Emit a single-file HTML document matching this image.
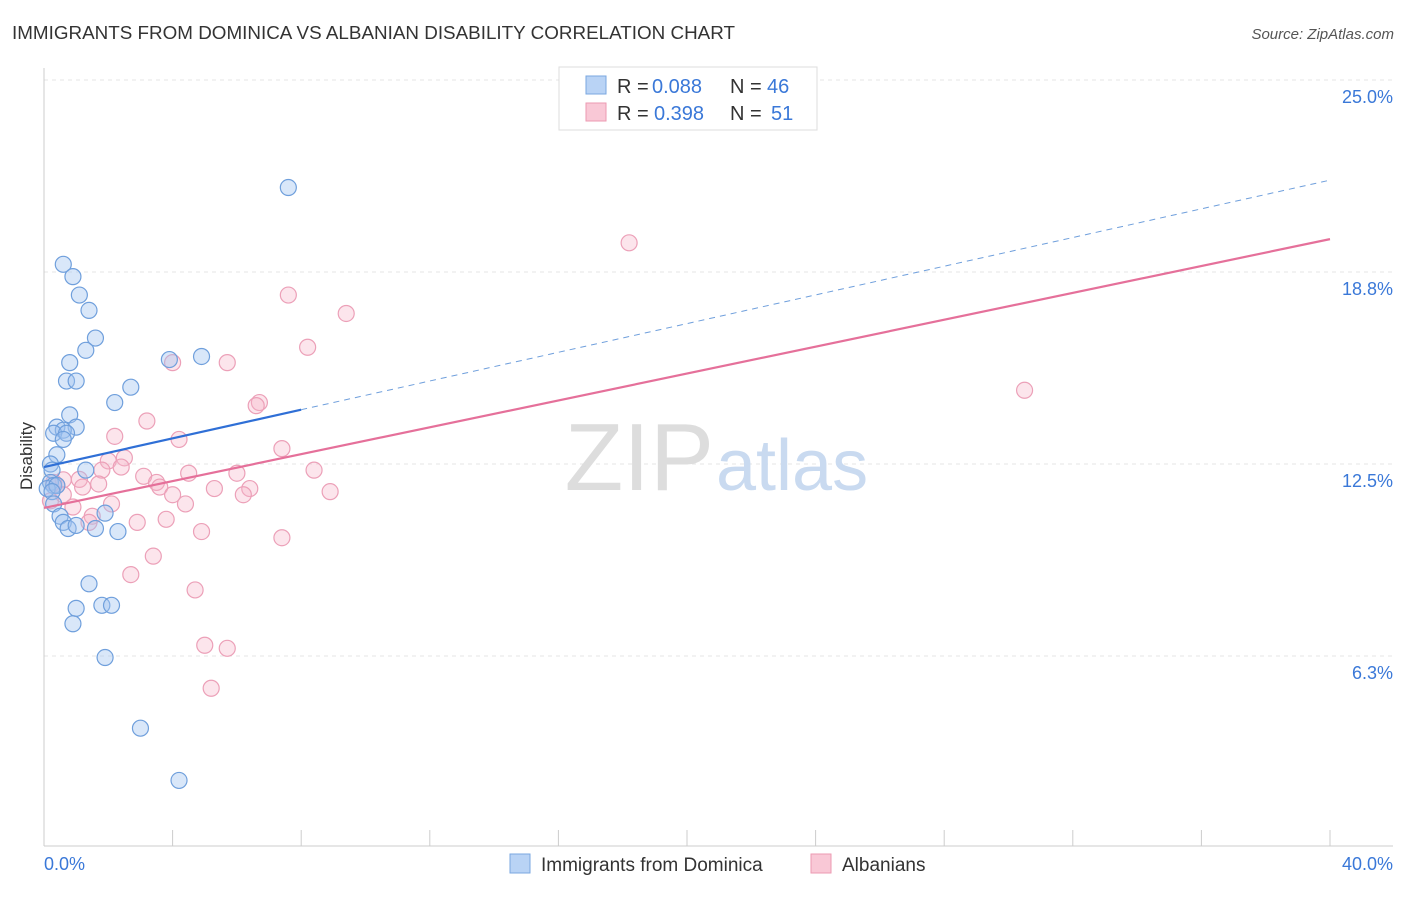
<!DOCTYPE html>
<html><head><meta charset="utf-8"><style>
body{margin:0;background:#fff;font-family:"Liberation Sans",sans-serif;}
svg text{font-family:"Liberation Sans",sans-serif;}
</style></head><body>
<svg id="chart" width="1406" height="892" xmlns="http://www.w3.org/2000/svg">
<text x="12" y="39" font-size="18" fill="#333" textLength="723" lengthAdjust="spacingAndGlyphs">IMMIGRANTS FROM DOMINICA VS ALBANIAN DISABILITY CORRELATION CHART</text>
<text x="1394" y="39" font-size="15" fill="#555" font-style="italic" text-anchor="end">Source: ZipAtlas.com</text>
<g id="grid"></g>
<text x="714" y="490" font-size="96" fill="#ddd" text-anchor="end" font-family="Liberation Serif">ZIP</text>
<text x="716" y="490" font-size="72" fill="#c9daf0">atlas</text>
<g id="axes"></g>
<g id="pts"></g>
<g id="trends"></g>
<text x="32" y="456" font-size="17" fill="#333" text-anchor="middle" transform="rotate(-90 32 456)">Disability</text>
<g>
<rect x="559" y="67" width="258" height="63" fill="#fff" stroke="#ddd"/>
<rect x="586" y="76" width="20" height="18" fill="#b9d3f5" stroke="#7aa7e0"/>
<rect x="586" y="103" width="20" height="18" fill="#f9c8d6" stroke="#ec9ab2"/>
<text x="617" y="93" font-size="20" fill="#333">R = <tspan fill="#3a78d8" x="652">0.088</tspan><tspan x="730">N = </tspan><tspan fill="#3a78d8" x="767">46</tspan></text>
<text x="617" y="120" font-size="20" fill="#333">R = <tspan fill="#3a78d8" x="654">0.398</tspan><tspan x="730">N = </tspan><tspan fill="#3a78d8" x="771">51</tspan></text>
</g>
<g>
<rect x="510" y="854" width="20" height="19" fill="#b9d3f5" stroke="#7aa7e0"/>
<text x="541" y="871" font-size="19" fill="#333">Immigrants from Dominica</text>
<rect x="811" y="854" width="20" height="19" fill="#f9c8d6" stroke="#ec9ab2"/>
<text x="842" y="871" font-size="19" fill="#333">Albanians</text>
</g>
</svg>
<script>
const yTicks=[6.25,12.5,18.75,25];
const yTickLabels=["6.3%","12.5%","18.8%","25.0%"];
const xTickVals=[0,4,8,12,16,20,24,28,32,36,40];
const blueX=[7.6,0.6,0.9,1.1,1.4,1.6,1.3,0.8,0.7,1.0,2.7,2.2,3.9,4.9,0.8,0.4,1.0,0.6,0.3,0.7,0.6,0.4,0.2,0.25,1.3,0.2,0.3,0.1,0.4,0.25,0.3,0.5,0.6,0.75,1.0,1.6,2.3,1.9,1.4,1.0,1.8,2.1,0.9,1.9,3.0,4.2];
const blueY=[21.5,19.0,18.6,18.0,17.5,16.6,16.2,15.8,15.2,15.2,15.0,14.5,15.9,16.0,14.1,13.7,13.7,13.6,13.5,13.5,13.3,12.8,12.5,12.3,12.3,11.9,11.8,11.7,11.8,11.6,11.2,10.8,10.6,10.4,10.5,10.4,10.3,10.9,8.6,7.8,7.9,7.9,7.3,6.2,3.9,2.2];
const pinkX=[18.2,7.6,9.4,8.2,4.0,5.7,30.5,6.7,6.6,3.2,4.2,2.2,7.4,2.0,2.5,2.4,1.8,4.5,6.0,3.1,8.4,3.5,1.1,0.6,0.3,0.4,1.7,1.2,0.6,3.6,4.0,5.3,6.4,6.2,8.9,0.9,2.1,4.4,1.5,1.4,2.9,3.8,4.9,7.4,3.4,2.7,4.7,5.0,5.7,5.2,0.2];
const pinkY=[19.7,18.0,17.4,16.3,15.8,15.8,14.9,14.5,14.4,13.9,13.3,13.4,13.0,12.6,12.7,12.4,12.3,12.2,12.2,12.1,12.3,11.9,12.0,11.985,11.9,11.8,11.85,11.75,11.5,11.75,11.5,11.7,11.7,11.5,11.6,11.1,11.2,11.2,10.8,10.6,10.6,10.7,10.3,10.1,9.5,8.9,8.4,6.6,6.5,5.2,11.3];
const blueTrend=[12.4,21.74];const blueSolidEnd=8;
const pinkTrend=[11.07,19.82];
const NS="http://www.w3.org/2000/svg";
const X=v=>44+v/40*1286, Y=v=>848-v*30.72;
function mk(tag,attrs,parent){const e=document.createElementNS(NS,tag);for(const k in attrs)e.setAttribute(k,attrs[k]);parent.appendChild(e);return e;}
const grid=document.getElementById('grid'),axes=document.getElementById('axes');
yTicks.forEach((t,i)=>{
 const l=mk('line',{x1:44,x2:1393,y1:Y(t),y2:Y(t),stroke:'#e4e4e4','stroke-dasharray':'4 4'},grid);
 
 
 const tx=mk('text',{x:1393,y:Y(t)+23,'font-size':18,fill:'#3a78d8','text-anchor':'end'},axes);
 tx.textContent=yTickLabels[i];
 
 
});
const tg=mk('line',{x1:44,x2:1393,y1:80,y2:80,stroke:'#e4e4e4','stroke-dasharray':'4 4'},grid);
mk('line',{x1:44,x2:44,y1:68,y2:846,stroke:'#ccc'},axes);
mk('line',{x1:44,x2:1393,y1:846,y2:846,stroke:'#ccc'},axes);
xTickVals.forEach(v=>{const t=mk('line',{x1:X(v),x2:X(v),y1:830,y2:846,stroke:'#ccc'},axes);
 
 });
const x0=mk('text',{x:44,y:870,'font-size':18,fill:'#3a78d8'},axes);x0.textContent='0.0%';


const x1=mk('text',{x:1393,y:870,'font-size':18,fill:'#3a78d8','text-anchor':'end'},axes);x1.textContent='40.0%';


const pts=document.getElementById('pts');
pinkX.forEach((v,i)=>{const c=mk('circle',{cx:X(v),cy:Y(pinkY[i]),r:8,fill:'rgba(246,180,200,0.35)',stroke:'#eca0b8','stroke-width':1.2},pts);
 
 });
blueX.forEach((v,i)=>{const c=mk('circle',{cx:X(v),cy:Y(blueY[i]),r:8,fill:'rgba(160,195,240,0.4)',stroke:'#6f9fdc','stroke-width':1.2},pts);
 
 });
const tr=document.getElementById('trends');
const bAt=v=>blueTrend[0]+(blueTrend[1]-blueTrend[0])*v/40;
const pl=mk('line',{x1:X(0),y1:Y(pinkTrend[0]),x2:X(40),y2:Y(pinkTrend[1]),stroke:'#e5709a','stroke-width':2.2},tr);


const bl=mk('line',{x1:X(0),y1:Y(bAt(0)),x2:X(blueSolidEnd),y2:Y(bAt(blueSolidEnd)),stroke:'#2f6fd6','stroke-width':2.2},tr);


const bd=mk('line',{x1:X(blueSolidEnd),y1:Y(bAt(blueSolidEnd)),x2:X(40),y2:Y(bAt(40)),stroke:'#6f9fdc','stroke-width':1,'stroke-dasharray':'6 5'},tr);


</script>
</body></html>
